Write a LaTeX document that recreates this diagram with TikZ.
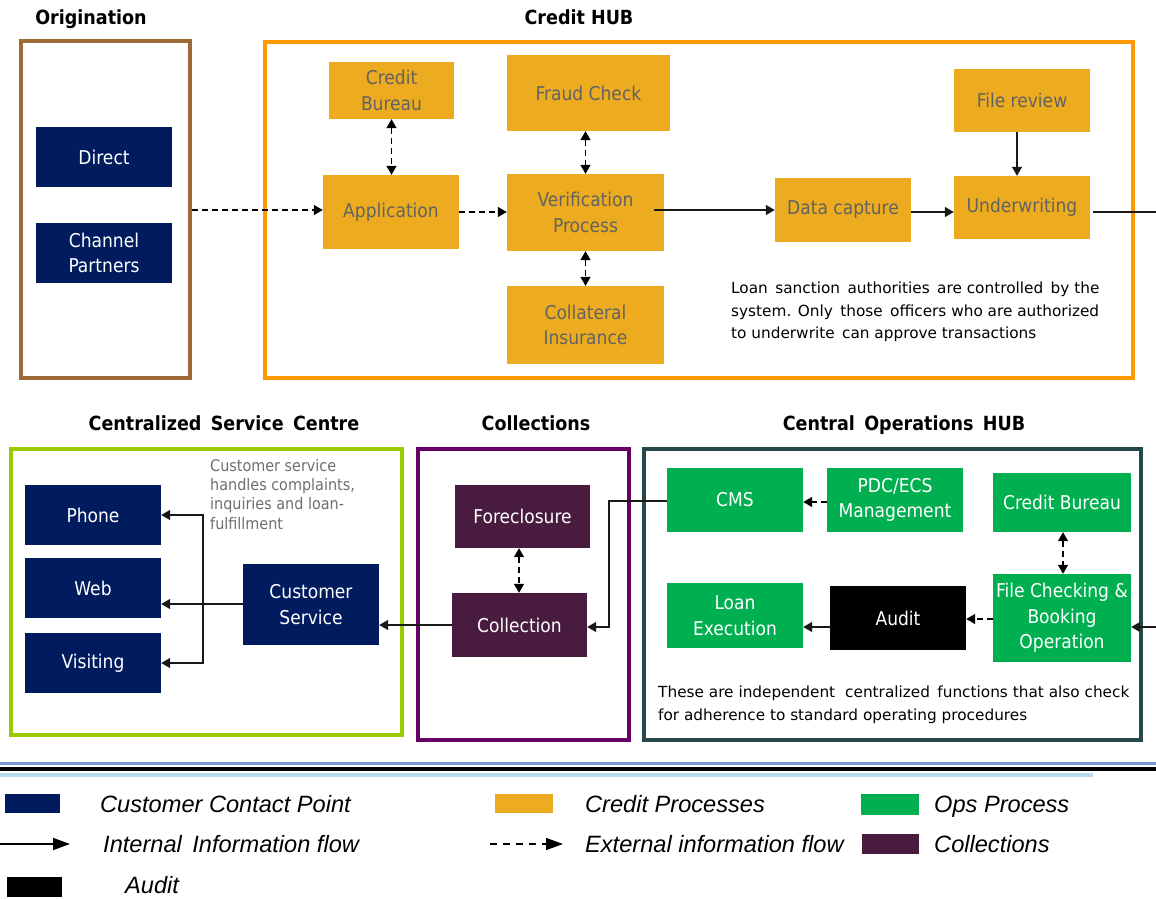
\documentclass[tikz,border=0pt]{standalone}
\usepackage{fontspec}
\setmainfont{DejaVu Sans Condensed}
\newfontfamily\notefont{DejaVu Sans}
\newfontfamily\legfont{Liberation Sans}
\usetikzlibrary{arrows.meta}
\definecolor{navy}{RGB}{0,27,94}
\definecolor{ofill}{RGB}{237,172,31}
\definecolor{otext}{RGB}{98,98,98}
\definecolor{gfill}{RGB}{0,176,80}
\definecolor{pfill}{RGB}{73,27,62}
\definecolor{hubc}{RGB}{255,153,0}
\definecolor{origc}{RGB}{158,106,55}
\definecolor{cscc}{RGB}{153,204,0}
\definecolor{colc}{RGB}{102,0,102}
\definecolor{cohc}{RGB}{38,72,72}
\definecolor{notegray}{RGB}{110,110,110}
\definecolor{sepblue}{RGB}{120,150,205}
\definecolor{sepcyan}{RGB}{183,222,232}
\begin{document}
\begin{tikzpicture}[x=1pt,y=-1pt,
  boxbase/.style={inner sep=0pt, align=center, font=\fontsize{19}{25.5}\selectfont},
  nbox/.style={boxbase, fill=navy, text=white},
  obox/.style={boxbase, fill=ofill, text=otext},
  gbox/.style={boxbase, fill=gfill, text=white},
  pbox/.style={boxbase, fill=pfill, text=white},
  kbox/.style={boxbase, fill=black, text=white},
  frame/.style={draw=#1, line width=4pt, inner sep=0pt},
  ttl/.style={font=\fontsize{19.5}{23}\selectfont\bfseries, inner sep=0pt, anchor=base},
  arr/.style={draw=black!90, line width=1.3pt, -{Triangle[length=9pt,width=10pt]}},
  darr/.style={draw=black, line width=1.3pt, dash pattern=on 6pt off 4pt, -{Triangle[length=9pt,width=10pt]}},
  ddarr/.style={draw=black, line width=1.3pt, dash pattern=on 6pt off 4pt, {Triangle[length=9pt,width=10pt]}-{Triangle[length=9pt,width=10pt]}},
  lnote/.style={inner sep=0pt, align=left, anchor=north west},
  leg/.style={font=\fontsize{23.6}{26}\selectfont\legfont\itshape, inner sep=0pt, anchor=base west},
  legarr/.style={draw=black, line width=1.6pt, -{Triangle[length=17pt,width=12pt]}},
  legdarr/.style={draw=black, line width=1.6pt, dash pattern=on 7pt off 6pt, -{Triangle[length=17pt,width=12pt]}},
  sw/.style={inner sep=0pt, anchor=north west}
]
\useasboundingbox (0,0) rectangle (1156,899);

% ---------- titles
\node[ttl] (t1) at (91,25) {Origination};
\node[ttl] (t2) at (579,25) {Credit HUB};
\node[ttl] (t3) at (224,430) {Centralized\, Service\, Centre};
\node[ttl] (t4) at (536,430) {Collections};
\node[ttl] (t5) at (904,430) {Central\, Operations\, HUB};

% ---------- frames
\node[frame=origc, minimum width=169pt, minimum height=337pt] (orig) at (105.5,209.5) {};
\node[frame=hubc, minimum width=868pt, minimum height=336pt] (hub) at (699,210) {};
\node[frame=cscc, minimum width=391pt, minimum height=286pt] (csc) at (206.5,592) {};
\node[frame=colc, minimum width=211pt, minimum height=291pt] (colb) at (523.5,594.5) {};
\node[frame=cohc, minimum width=497pt, minimum height=291pt] (coh) at (892.5,594.5) {};

% ---------- origination
\node[nbox, minimum width=136pt, minimum height=60pt] (direct) at (104,157) {Direct};
\node[nbox, minimum width=136pt, minimum height=60pt] (chan) at (104,253) {Channel\\Partners};

% ---------- credit hub
\node[obox, minimum width=125pt, minimum height=57pt] (cb1) at (391.5,90.5) {Credit\\Bureau};
\node[obox, minimum width=136pt, minimum height=74pt] (app) at (391,212) {Application};
\node[obox, minimum width=163pt, minimum height=76pt] (fraud) at (588.5,93) {Fraud Check};
\node[obox, minimum width=157pt, minimum height=77pt] (verif) at (585.5,212.5) {Verification\\Process};
\node[obox, minimum width=157pt, minimum height=78pt] (coll) at (585.5,325) {Collateral\\Insurance};
\node[obox, minimum width=136pt, minimum height=64pt] (data) at (843,210) {Data capture};
\node[obox, minimum width=136pt, minimum height=63pt] (filerev) at (1022,100.5) {File review};
\node[obox, minimum width=136pt, minimum height=63pt] (under) at (1022,207.5) {Underwriting};

\node[lnote, font=\fontsize{15.3}{22.5}\selectfont\notefont] (note1) at (731,282) {Loan\, sanction\, authorities\, are controlled\, by the\\system. Only\, those\, officers who are authorized\\to underwrite\, can approve transactions};

% ---------- centralized service centre
\node[nbox, minimum width=136pt, minimum height=60pt] (phone) at (93,515) {Phone};
\node[nbox, minimum width=136pt, minimum height=60pt] (web) at (93,588) {Web};
\node[nbox, minimum width=136pt, minimum height=60pt] (visit) at (93,663) {Visiting};
\node[nbox, minimum width=136pt, minimum height=81pt] (cs) at (311,604.5) {Customer\\Service};
\node[lnote, text=notegray, font=\fontsize{16}{19.3}\selectfont] (note2) at (210,459) {Customer service\\handles complaints,\\inquiries and loan-\\fulfillment};

% ---------- collections
\node[pbox, minimum width=135pt, minimum height=63pt] (fore) at (522.5,516.5) {Foreclosure};
\node[pbox, minimum width=135pt, minimum height=64pt] (collect) at (519.5,625) {Collection};

% ---------- central operations hub
\node[gbox, minimum width=136pt, minimum height=64pt] (cms) at (735,500) {CMS};
\node[gbox, minimum width=136pt, minimum height=64pt] (pdc) at (895,500) {PDC/ECS\\Management};
\node[gbox, minimum width=138pt, minimum height=59pt] (cb2) at (1062,502.5) {Credit Bureau};
\node[gbox, minimum width=136pt, minimum height=65pt] (loan) at (735,615.5) {Loan\\Execution};
\node[kbox, minimum width=136pt, minimum height=64pt] (audit) at (898,618) {Audit};
\node[gbox, minimum width=138pt, minimum height=88pt] (fcb) at (1062,618) {File Checking \&\\Booking\\Operation};
\node[lnote, font=\fontsize{15.3}{22.5}\selectfont\notefont] (note3) at (658,686) {These are independent\,\, centralized\, functions that also check\\for adherence to standard operating procedures};

% ---------- connectors: credit hub
\draw[darr] (orig.east |- 0,210) -- (app.west |- 0,210);
\draw[ddarr] (cb1.south) -- (cb1.south |- app.north);
\draw[darr] (app.east) -- (verif.west |- app.east);
\draw[ddarr] (fraud.south -| verif.north) -- (verif.north);
\draw[ddarr] (verif.south) -- (coll.north);
\draw[arr] ([xshift=-10pt]verif.east |- 0,210) -- (data.west);
\draw[arr] (data.east |- 0,212) -- (under.west |- 0,212);
\draw[arr] (filerev.south -| 1017,0) -- (under.north -| 1017,0);
\coordinate (outR1) at (1156,212);
\draw[draw=black!90, line width=1.3pt] ([xshift=3pt]under.east |- outR1) -- (outR1);

% ---------- connectors: bottom
\coordinate (outR2) at (1156,627);
\draw[arr] (outR2) -- (fcb.east |- outR2);
\draw[ddarr] (cb2.south -| 1063,0) -- (fcb.north -| 1063,0);
\draw[darr] (fcb.west |- 0,619) -- (audit.east |- 0,619);
\draw[arr] (audit.west |- 0,627) -- (loan.east |- 0,627);
\draw[darr] (pdc.west |- 0,502) -- (cms.east |- 0,502);
\coordinate (cmsj) at (609,501);
\draw[arr] (cms.west |- cmsj) -- (cmsj) |- (collect.east |- 0,627);
\draw[ddarr] (fore.south -| 519,0) -- (collect.north -| 519,0);
\draw[arr] (collect.west) -- (cs.east |- collect.west);
\coordinate (csj) at (203,604);
\draw[draw=black!90, line width=1.3pt] (cs.west |- csj) -- (csj);
\draw[arr] (csj) |- (phone.east);
\draw[arr] (csj) |- (visit.east);
\draw[arr] (csj) -- (web.east |- csj);

% ---------- separator
\fill[sepblue] (0,761.5) rectangle (1156,764.5);
\fill[black] (0,766.5) rectangle (1156,770.5);
\fill[sepcyan] (0,773) rectangle (1093,777);

% ---------- legend
\node[sw, fill=navy, minimum width=55pt, minimum height=19pt] (lg1) at (5,794) {};
\node[leg] (lt1) at (100,812) {Customer Contact Point};
\node[sw, fill=ofill, minimum width=58pt, minimum height=19pt] (lg2) at (495,794) {};
\node[leg] (lt2) at (585,812) {Credit Processes};
\node[sw, fill=gfill, minimum width=58pt, minimum height=21pt] (lg3) at (861,794) {};
\node[leg] (lt3) at (934,812) {Ops Process};
\coordinate (la1) at (0,844);
\coordinate (la2) at (70,844);
\draw[legarr] (la1) -- (la2);
\node[leg] (lt4) at (103,852) {Internal\, Information flow};
\coordinate (lb1) at (490,844);
\coordinate (lb2) at (563,844);
\draw[legdarr] (lb1) -- (lb2);
\node[leg] (lt5) at (585,852) {External information flow};
\node[sw, fill=pfill, minimum width=57pt, minimum height=20pt] (lg4) at (862,834) {};
\node[leg] (lt6) at (934,852) {Collections};
\node[sw, fill=black, minimum width=55pt, minimum height=20pt] (lg5) at (7,877) {};
\node[leg] (lt7) at (125,893) {Audit};
\end{tikzpicture}
\end{document}
